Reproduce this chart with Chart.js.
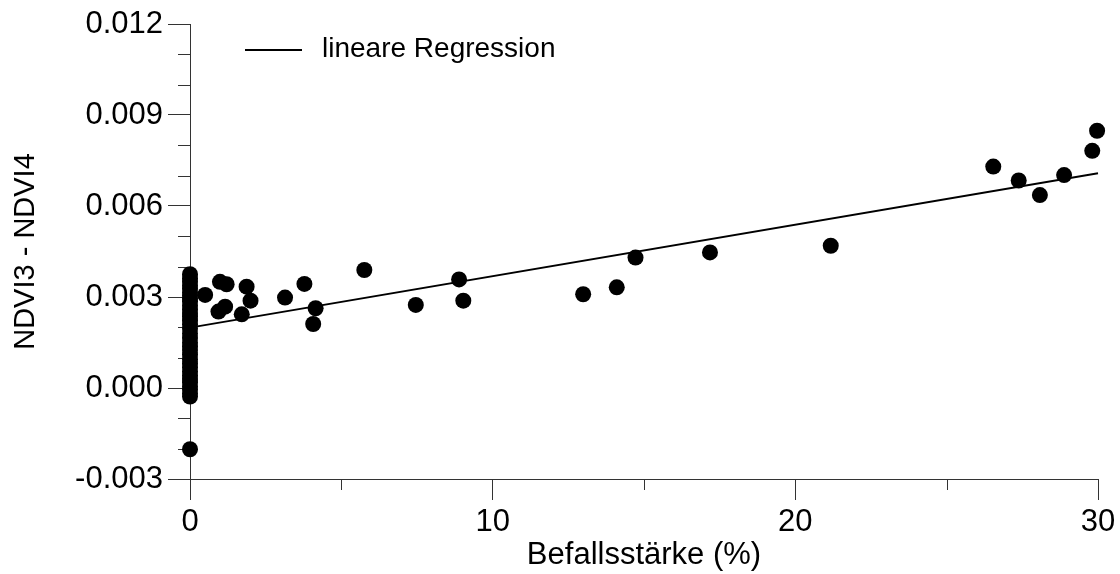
<!DOCTYPE html>
<html><head><meta charset="utf-8">
<script src="https://cdn.jsdelivr.net/npm/chart.js@4.4.0/dist/chart.umd.min.js"></script>
<style>html,body{margin:0;padding:0;background:#fff}#wrap{width:1120px;height:574px}</style>
</head><body><div id="wrap"><canvas id="c" width="1120" height="574"></canvas></div>
<script>
// Befallsstärke (%) values of each sample
const befall = [
  0,0,0,0,0,0,0,0,0,0,0,0,0,0,0,0,0,0,0,0,0,0,0,0,0,0,0,0,0,0,0,0,0,0,
  0.5, 0.99, 1.21, 1.87, 2.0, 0.94, 1.16, 1.71, 3.14, 3.78, 4.15, 4.07, 5.76, 7.46, 8.89, 9.03,
  12.99, 14.10, 14.72, 17.18, 21.17, 26.54, 27.38, 28.08, 28.88, 29.81, 29.97
];
// NDVI3 - NDVI4 values of each sample
const ndviDiff = [
  0.00375,0.00362,0.0035,0.00338,0.00327,0.00315,0.00305,0.00295,0.00285,0.00272,0.0026,0.00247,
  0.00235,0.00222,0.0021,0.00195,0.0018,0.00165,0.0015,0.00138,0.00125,0.0011,0.00095,0.0008,
  0.00068,0.00055,0.00042,0.0003,0.00018,0.00005,-0.00005,-0.00018,-0.00028,-0.00202,
  0.00307, 0.0035, 0.00342, 0.00334, 0.00288, 0.00252, 0.00268, 0.00243, 0.00298, 0.00343, 0.00263, 0.00211, 0.00389, 0.00274, 0.00358, 0.00288,
  0.00309, 0.00332, 0.0043, 0.00447, 0.00469, 0.0073, 0.00684, 0.00636, 0.00702, 0.00782, 0.00848
];
// linear regression line end points
const regX = [0, 30];
const regY = [0.00199, 0.00708];
const regLabel = 'lineare Regression';
// axis ticks
const xMajorTicks = [0, 10, 20, 30];
const xMinorTicks = [5, 15, 25];
const yMajorTicks = [-0.003, 0, 0.003, 0.006, 0.009, 0.012];
const yMinorTicks = [-0.002, -0.001, 0.001, 0.002, 0.004, 0.005, 0.007, 0.008, 0.010, 0.011];
const xTitle = 'Befallsstärke (%)';
const yTitle = 'NDVI3 - NDVI4';

const FONT = '"Liberation Sans", Arial, Helvetica, sans-serif';
const AXIS_COLOR = '#333';

const minorTicksPlugin = {
  id: 'minorTicks',
  beforeDatasetsDraw(chart) {
    const ctx = chart.ctx;
    const xs = chart.scales.x, ys = chart.scales.y;
    ctx.save();
    ctx.strokeStyle = AXIS_COLOR;
    ctx.lineWidth = 1;
    ctx.beginPath();
    xMinorTicks.forEach(v => {
      const px = Math.round(xs.getPixelForValue(v)) + 0.5;
      ctx.moveTo(px, xs.top);
      ctx.lineTo(px, xs.top + 11);
    });
    yMinorTicks.forEach(v => {
      const py = Math.round(ys.getPixelForValue(v)) + 0.5;
      ctx.moveTo(ys.right, py);
      ctx.lineTo(ys.right - 12, py);
    });
    ctx.stroke();
    ctx.restore();
  }
};

const legendPlugin = {
  id: 'innerLegend',
  afterDraw(chart) {
    const ctx = chart.ctx;
    const a = chart.chartArea;
    const x0 = a.left + 55, y0 = a.top + 26;
    ctx.save();
    ctx.strokeStyle = '#000';
    ctx.lineWidth = 1.8;
    ctx.beginPath();
    ctx.moveTo(x0, y0);
    ctx.lineTo(x0 + 57, y0);
    ctx.stroke();
    ctx.fillStyle = '#000';
    ctx.font = '28px ' + FONT;
    ctx.textBaseline = 'middle';
    ctx.textAlign = 'left';
    ctx.fillText(chart.data.datasets[1].label, x0 + 77, y0 - 1);
    ctx.restore();
  }
};

new Chart(document.getElementById('c'), {
  type: 'scatter',
  data: {
    datasets: [
      {
        label: 'Messwerte',
        data: befall.map((x, i) => ({x: x, y: ndviDiff[i]})),
        pointRadius: 8,
        pointHoverRadius: 8,
        pointBackgroundColor: '#000',
        pointBorderWidth: 0,
        borderWidth: 0,
        clip: false,
        order: 1
      },
      {
        type: 'line',
        label: regLabel,
        data: regX.map((x, i) => ({x: x, y: regY[i]})),
        borderColor: '#000',
        borderWidth: 1.8,
        pointRadius: 0,
        fill: false,
        clip: false,
        order: 2
      }
    ]
  },
  options: {
    responsive: false,
    devicePixelRatio: 1,
    animation: false,
    layout: {padding: {top: 24, right: 22, left: 0, bottom: 0}},
    plugins: {legend: {display: false}, tooltip: {enabled: false}},
    scales: {
      x: {
        type: 'linear',
        min: 0, max: 30,
        afterBuildTicks: s => { s.ticks = xMajorTicks.map(v => ({value: v})); },
        afterFit: s => { s.height = 95; },
        grid: {drawOnChartArea: false, drawTicks: true, tickLength: 21, tickColor: AXIS_COLOR, lineWidth: 1},
        border: {display: true, color: AXIS_COLOR, width: 1},
        ticks: {color: '#000', font: {family: FONT, size: 31}, padding: 4, maxRotation: 0, autoSkip: false},
        title: {display: true, text: xTitle, color: '#000', font: {family: FONT, size: 31}, padding: {top: 0, bottom: 0}}
      },
      y: {
        type: 'linear',
        min: -0.003, max: 0.012,
        afterBuildTicks: s => { s.ticks = yMajorTicks.map(v => ({value: v})); },
        afterFit: s => { s.width = 190; },
        grid: {drawOnChartArea: false, drawTicks: true, tickLength: 22, tickColor: AXIS_COLOR, lineWidth: 1},
        border: {display: true, color: AXIS_COLOR, width: 1},
        ticks: {color: '#000', font: {family: FONT, size: 31}, padding: 5, autoSkip: false, callback: v => v.toFixed(3)},
        title: {display: true, text: yTitle, color: '#000', font: {family: FONT, size: 29}, padding: {top: 9, bottom: 0}}
      }
    }
  },
  plugins: [minorTicksPlugin, legendPlugin]
});
</script>
</body></html>
